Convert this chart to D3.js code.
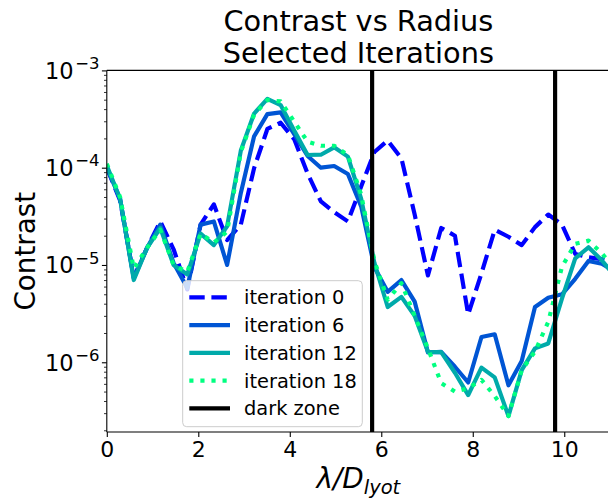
<!DOCTYPE html>
<html>
<head>
<meta charset="utf-8">
<script src="https://cdn.jsdelivr.net/npm/d3@7"></script>
<style>
  html, body { margin: 0; padding: 0; background: #fff; }
  svg { display: block; font-family: "DejaVu Sans", sans-serif; }
</style>
</head>
<body>
<svg id="chart" width="608" height="498"></svg>
<script>
// ---- data ----
const radius = [0, 0.29, 0.59, 0.88, 1.17, 1.46, 1.76, 2.05, 2.34, 2.63, 2.93, 3.22, 3.51, 3.80,
  4.10, 4.39, 4.68, 4.97, 5.27, 5.56, 5.85, 6.14, 6.44, 6.73, 7.02, 7.31, 7.61, 7.90, 8.19,
  8.48, 8.78, 9.07, 9.36, 9.65, 9.95, 10.24, 10.53, 10.82, 11.12];

const iter0 = [1.0e-4, 4.6e-5, 7.5e-6, 1.5e-5, 2.8e-5, 1.45e-5, 5.6e-6, 2.6e-5, 4.2e-5, 1.8e-5,
  2.6e-5, 9.9e-5, 2.5e-4, 2.9e-4, 1.95e-4, 8.7e-5, 4.5e-5, 3.5e-5, 2.8e-5, 6.4e-5,
  1.45e-4, 1.9e-4, 1.25e-4, 3.3e-5, 7.8e-6, 2.4e-5, 2.0e-5, 3.1e-6, 8.2e-6, 2.3e-5,
  1.95e-5, 1.6e-5, 2.45e-5, 3.3e-5, 2.6e-5, 1.3e-5, 1.2e-5, 1.15e-5, 9.5e-6];

const iter6 = [1.0e-4, 4.8e-5, 7.3e-6, 1.5e-5, 2.6e-5, 1.05e-5, 5.8e-6, 2.6e-5, 2.8e-5, 1.0e-5,
  5.5e-5, 2.1e-4, 3.55e-4, 3.7e-4, 2.2e-4, 1.32e-4, 1.0e-4, 1.04e-4, 8.6e-5, 4.0e-5,
  9.5e-6, 5.3e-6, 7.0e-6, 4.2e-6, 1.26e-6, 1.28e-6, 9.0e-7, 6.2e-7, 1.82e-6, 1.94e-6,
  5.8e-7, 1.03e-6, 3.7e-6, 4.6e-6, 5.0e-6, 7.2e-6, 1.1e-5, 1.03e-5, 8.5e-6];

const iter12 = [1.05e-4, 4.8e-5, 7.0e-6, 1.5e-5, 2.4e-5, 1.0e-5, 8.0e-6, 2.1e-5, 1.6e-5, 2.5e-5,
  1.5e-4, 3.6e-4, 5.1e-4, 4.4e-4, 2.4e-4, 1.35e-4, 1.36e-4, 1.62e-4, 1.3e-4, 4.8e-5,
  1.05e-5, 3.7e-6, 4.7e-6, 3.0e-6, 1.28e-6, 1.27e-6, 7.8e-7, 4.6e-7, 8.8e-7, 7.0e-7,
  2.8e-7, 8.3e-7, 1.39e-6, 1.56e-6, 4.5e-6, 1.17e-5, 1.52e-5, 1.12e-5, 7.5e-6];

const iter18 = [1.1e-4, 5.0e-5, 9.2e-6, 1.5e-5, 2.3e-5, 1.0e-5, 8.5e-6, 2.1e-5, 1.7e-5, 2.2e-5,
  1.45e-4, 3.5e-4, 4.97e-4, 4.8e-4, 2.97e-4, 1.85e-4, 1.68e-4, 1.68e-4, 1.35e-4, 5.3e-5,
  1.1e-5, 4.4e-6, 6.5e-6, 3.0e-6, 1.39e-6, 6.1e-7, 5.0e-7, 5.4e-7, 6.6e-7, 4.5e-7,
  2.8e-7, 8.3e-7, 1.29e-6, 2.6e-6, 9.6e-6, 1.65e-5, 1.78e-5, 1.32e-5, 8.9e-6];

const seriesNames = ["iteration 0", "iteration 6", "iteration 12", "iteration 18"];
const darkZone = [5.8, 9.8];
const xTicks = [0, 2, 4, 6, 8, 10];
const yTickExps = [-3, -4, -5, -6];
const titleLines = ["Contrast vs Radius", "Selected Iterations"];

// ---- styles ----
const seriesStyles = [
  { color: "#0000ff", dash: "15.4,6.7" },
  { color: "#0055d4", dash: null },
  { color: "#00aaaa", dash: null },
  { color: "#00ff80", dash: "4.17,6.9" }
];
const LW = 4.17;

const svg = d3.select("#chart");
const pL = 106.8, pR = 610, pT = 70.4, pB = 432;

const x = d3.scaleLinear().domain([0, 11]).range([pL, pR]);
const y = d3.scaleLog().domain([1.92e-7, 1e-3]).range([pB, pT]);

svg.append("defs").append("clipPath").attr("id", "plotclip")
  .append("rect").attr("x", pL).attr("y", pT)
  .attr("width", pR - pL).attr("height", pB - pT);

const plot = svg.append("g").attr("clip-path", "url(#plotclip)");

const allSeries = [iter0, iter6, iter12, iter18];
const line = d3.line().x(d => x(d[0])).y(d => y(d[1]));

allSeries.forEach((vals, k) => {
  const pts = radius.map((r, i) => [r, vals[i]]);
  const p = plot.append("path").datum(pts)
    .attr("d", line)
    .attr("fill", "none")
    .attr("stroke", seriesStyles[k].color)
    .attr("stroke-width", LW)
    .attr("stroke-linejoin", "round")
    .attr("stroke-linecap", "butt");
  if (seriesStyles[k].dash) p.attr("stroke-dasharray", seriesStyles[k].dash);
});

darkZone.forEach(v => {
  plot.append("line")
    .attr("x1", x(v)).attr("x2", x(v))
    .attr("y1", pT).attr("y2", pB)
    .attr("stroke", "#000").attr("stroke-width", LW);
});

// ---- axes ----
const xAxis = d3.axisBottom(x).tickValues(xTicks).tickSize(4.9).tickPadding(4.2)
  .tickFormat(d3.format("d"));
const gx = svg.append("g").attr("transform", `translate(0,${pB})`).call(xAxis);
gx.select(".domain").remove();
gx.selectAll(".tick line").attr("stroke", "#000").attr("stroke-width", 1.1);
gx.selectAll(".tick text").attr("font-size", 22).attr("fill", "#000")
  .attr("font-family", "DejaVu Sans");

// y major ticks
const majorVals = yTickExps.map(e => Math.pow(10, e));
const yAxis = d3.axisLeft(y).tickValues(majorVals).tickSize(4.9).tickFormat("");
const gy = svg.append("g").attr("transform", `translate(${pL},0)`).call(yAxis);
gy.select(".domain").remove();
gy.selectAll(".tick line").attr("stroke", "#000").attr("stroke-width", 1.1);

// y minor ticks
const minorVals = [];
for (let e = -7; e <= -4; e++) {
  for (let m = 2; m <= 9; m++) {
    const v = m * Math.pow(10, e);
    if (v >= y.domain()[0] && v <= y.domain()[1]) minorVals.push(v);
  }
}
const yMinor = d3.axisLeft(y).tickValues(minorVals).tickSize(2.8).tickFormat("");
const gym = svg.append("g").attr("transform", `translate(${pL},0)`).call(yMinor);
gym.select(".domain").remove();
gym.selectAll(".tick line").attr("stroke", "#000").attr("stroke-width", 0.8);

// y tick labels (10^e)
yTickExps.forEach(e => {
  const yy = y(Math.pow(10, e));
  const t = svg.append("text")
    .attr("x", 99.5).attr("y", yy + 8.3)
    .attr("text-anchor", "end")
    .attr("font-size", 22.5).attr("fill", "#000");
  t.append("tspan").text("10");
  t.append("tspan").attr("dy", -9.5).attr("dx", 1.5).attr("font-size", 16.5).text("\u2212" + Math.abs(e));
});

// spines
[[pL, pL, pT, pB], [pL, pR, pB, pB], [pL, pR, pT, pT], [pR, pR, pT, pB]].forEach(s => {
  svg.append("line").attr("x1", s[0]).attr("x2", s[1]).attr("y1", s[2]).attr("y2", s[3])
    .attr("stroke", "#000").attr("stroke-width", 1.1);
});

// ---- title ----
const cx = (pL + pR) / 2;
titleLines.forEach((s, i) => {
  svg.append("text").attr("x", cx).attr("y", 30.5 + i * 32.5)
    .attr("text-anchor", "middle").attr("font-size", 28.8).attr("fill", "#000").text(s);
});

// ---- axis labels ----
const xl = svg.append("text").attr("x", cx).attr("y", 488)
  .attr("text-anchor", "middle").attr("font-size", 27.8).attr("fill", "#000")
  .attr("font-style", "italic");
xl.append("tspan").text("\u03bb/D");
xl.append("tspan").attr("dy", 6).attr("font-size", 19.5).text("lyot");

svg.append("text")
  .attr("transform", `translate(34.5,${(pT + pB) / 2}) rotate(-90)`)
  .attr("text-anchor", "middle").attr("font-size", 27.8).attr("fill", "#000")
  .text("Contrast");

// ---- legend ----
const lg = svg.append("g");
lg.append("rect").attr("x", 182.7).attr("y", 280.7).attr("width", 179.6).attr("height", 146)
  .attr("rx", 4).attr("fill", "#fff").attr("fill-opacity", 0.8)
  .attr("stroke", "#cccccc").attr("stroke-width", 1);
const legendItems = seriesNames.map((n, k) => ({ name: n, color: seriesStyles[k].color, dash: seriesStyles[k].dash }))
  .concat([{ name: "dark zone", color: "#000", dash: null }]);
legendItems.forEach((it, i) => {
  const yy = 297.3 + i * 27.75;
  const l = lg.append("line").attr("x1", 189.3).attr("x2", 230).attr("y1", yy).attr("y2", yy)
    .attr("stroke", it.color).attr("stroke-width", LW);
  if (it.dash) l.attr("stroke-dasharray", it.dash);
  lg.append("text").attr("x", 244).attr("y", yy + 7)
    .attr("font-size", 19.4).attr("fill", "#000").text(it.name);
});
</script>
</body>
</html>
